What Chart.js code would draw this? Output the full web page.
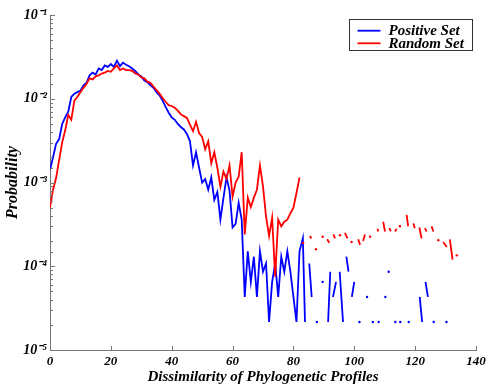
<!DOCTYPE html>
<html><head><meta charset="utf-8">
<script src="https://cdn.jsdelivr.net/npm/chart.js@4.4.0/dist/chart.umd.min.js"></script>
<style>html,body{margin:0;padding:0;background:#fff;}</style>
</head><body>
<canvas id="c" width="488" height="386"></canvas>
<script>
const seriesNames = ['Positive Set', 'Random Set'];
const seriesColors = ['rgb(0,0,255)', 'rgb(255,0,0)'];
const xTicks = [0, 20, 40, 60, 80, 100, 120, 140];
const yDecades = [1e-5, 1e-4, 1e-3, 1e-2, 1e-1];
const yTickLabels = ['10⁻⁵', '10⁻⁴', '10⁻³', '10⁻²', '10⁻¹'];
const xTitle = 'Dissimilarity of Phylogenetic Profiles';
const yTitle = 'Probability';

const binX = [0,1,2,3,4,5,6,7,8,9,10,11,12,13,14,15,16,17,18,19,20,21,22,23,24,25,26,27,28,29,30,31,32,33,34,35,36,37,38,39,40,41,42,43,44,45,46,47,48,49,50,51,52,53,54,55,56,57,58,59,60,61,62,63,64,65,66,67,68,69,70,71,72,73,74,75,76,77,78,79,80,81,82];

const blueMain = [1.42e-3, 2.0e-3, 2.9e-3, 3.3e-3, 5.0e-3, 6.0e-3, 7.0e-3, 1.05e-2, 1.15e-2, 1.2e-2,
 1.25e-2, 1.45e-2, 1.55e-2, 1.9e-2, 2.05e-2, 1.95e-2, 2.3e-2, 2.2e-2, 2.5e-2, 2.4e-2,
 2.6e-2, 2.4e-2, 2.85e-2, 2.45e-2, 2.7e-2, 2.55e-2, 2.45e-2, 2.3e-2, 2.15e-2, 1.95e-2,
 1.85e-2, 1.65e-2, 1.58e-2, 1.45e-2, 1.35e-2, 1.2e-2, 1.1e-2, 9.5e-3, 8.0e-3, 6.8e-3,
 6.0e-3, 5.6e-3, 5.0e-3, 4.6e-3, 4.3e-3, 3.8e-3, 3.1e-3, 1.6e-3, 2.3e-3, 1.5e-3,
 1.0e-3, 1.1e-3, 8.2e-4, 1.15e-3, 6.2e-4, 7.7e-4, 3.6e-4, 6.5e-4, 1.15e-3, 8.0e-4,
 2.9e-4, 3.2e-4, 5.7e-4, 3.6e-4, 4.3e-5, 1.51e-4, 6.5e-5, 1.3e-4, 4.3e-5, 1.51e-4,
 8.6e-5, 1.08e-4, 2.16e-5, 6.5e-5, 1.08e-4, 4.3e-5, 1.3e-4, 8.6e-5, 1.51e-4, 8.6e-5,
 4.3e-5, 2.16e-5, 1.51e-4];

const redMain = [5.0e-4, 8.2e-4, 1.13e-3, 1.86e-3, 3.0e-3, 4.2e-3, 6.4e-3, 5.6e-3, 9.5e-3, 1.05e-2,
 1.2e-2, 1.35e-2, 1.5e-2, 1.75e-2, 1.7e-2, 1.85e-2, 1.9e-2, 2.0e-2, 2.05e-2, 2.15e-2,
 2.1e-2, 2.3e-2, 2.5e-2, 2.2e-2, 2.3e-2, 2.2e-2, 2.2e-2, 2.15e-2, 2.0e-2, 1.95e-2,
 1.8e-2, 1.75e-2, 1.6e-2, 1.55e-2, 1.4e-2, 1.27e-2, 1.15e-2, 1.02e-2, 9.2e-3, 8.4e-3,
 8.2e-3, 7.8e-3, 7.2e-3, 6.5e-3, 6.2e-3, 5.9e-3, 4.9e-3, 4.1e-3, 5.3e-3, 3.9e-3,
 3.5e-3, 2.5e-3, 3.1e-3, 1.7e-3, 2.3e-3, 1.5e-3, 8.9e-4, 1.35e-3, 1.1e-3, 1.6e-3,
 6.8e-4, 1.0e-3, 1.17e-3, 2.3e-3, 2.4e-4, 6.6e-4, 5.1e-4, 6.6e-4, 8.2e-4, 1.6e-3,
 9.0e-4, 3.9e-4, 2.3e-4, 3.8e-4, 7.5e-5, 3.6e-4, 3.0e-4, 3.4e-4, 3.6e-4, 4.3e-4,
 5.0e-4, 7.5e-4, 1.15e-3];

// sparse tails (null = no observations -> gap)
const blueTailX = [83.1, 83.8, 84.5, 85.2, 86.0, 86.8, 87.7, 88.6, 89.6, 90.5, 91.4, 92.1, 92.5, 93.0, 94.0, 94.6, 95.2, 96.3, 96.8, 97.4, 98.1, 98.6, 99.2, 100.0, 100.8, 101.7, 103.0, 104.2, 105.2, 106.1, 107.0, 108.0, 109.1, 110.2, 110.8, 111.3, 112.4, 113.5, 114.3, 115.1, 116.5, 117.9, 119.7, 121.5, 122.3, 122.8, 123.4, 124.2, 125.2, 126.1, 128.2, 130.3];
const blueTailY = [2.16e-4, 2.16e-5, null, 1.08e-4, 4.3e-5, null, 2.16e-5, null, 6.5e-5, null, 2.16e-5, 8.6e-5, null, 4.3e-5, 6.5e-5, null, 8.6e-5, 2.16e-5, null, 1.3e-4, 8.6e-5, null, 4.3e-5, 6.5e-5, null, 2.16e-5, null, 4.3e-5, null, 2.16e-5, null, 2.16e-5, null, 4.3e-5, null, 8.6e-5, null, 2.16e-5, null, 2.16e-5, null, 2.16e-5, null, 4.3e-5, 2.16e-5, null, 6.5e-5, 4.3e-5, null, 2.16e-5, null, 2.16e-5];

const redTailX = [82.5, 83.2, 84.3, 85.4, 85.9, 86.7, 87.4, 88.5, 89.6, 90.4, 91.1, 91.8, 92.5, 93.1, 93.7, 94.5, 95.3, 96.1, 96.9, 97.8, 98.5, 99.1, 100.5, 101.3, 101.9, 102.4, 102.9, 103.5, 104.4, 105.2, 106.5, 107.6, 107.9, 108.7, 109.5, 110.1, 110.8, 111.5, 112.0, 112.7, 113.4, 113.9, 114.5, 115.0, 116.1, 117.2, 117.7, 118.6, 119.4, 119.9, 120.7, 121.4, 122.1, 122.7, 123.2, 123.8, 124.6, 125.4, 126.0, 126.8, 127.6, 128.5, 129.2, 130.4, 131.0, 131.4, 132.3, 133.0, 133.7];
const redTailY = [null, 1.9e-4, null, 2.3e-4, 2.15e-4, null, 1.6e-4, null, 2.25e-4, null, 2.1e-4, 1.9e-4, null, 2.4e-4, 2.15e-4, null, 2.35e-4, null, 2.5e-4, 2.15e-4, null, 1.95e-4, null, 2.1e-4, 1.8e-4, null, 2.0e-4, 2.4e-4, null, 2.25e-4, null, 2.8e-4, 2.6e-4, null, 3.4e-4, 2.6e-4, null, 2.85e-4, 2.6e-4, null, 2.6e-4, 2.8e-4, null, 3.0e-4, null, 4.1e-4, 3.0e-4, null, 3.25e-4, 2.85e-4, null, 2.9e-4, 2.15e-4, null, 2.85e-4, 2.6e-4, null, 3.0e-4, 2.6e-4, null, 2.05e-4, null, 1.95e-4, 1.7e-4, null, 2.1e-4, 1.2e-4, null, 1.35e-4];

function pts(xs, ys) { return xs.map((x, i) => ({x: x, y: ys[i]})); }
const blueData = pts(binX, blueMain).concat(pts(blueTailX, blueTailY));
const redData = pts(binX, redMain).concat(pts(redTailX, redTailY));

function isolatedRadius(ctx) {
  const d = ctx.dataset.data, i = ctx.dataIndex;
  if (!d[i] || d[i].y == null) return 0;
  const p = d[i - 1], n = d[i + 1];
  const pn = !p || p.y == null, nn = !n || n.y == null;
  return (pn && nn) ? 1.2 : 0;
}

const FONT = "'Liberation Serif', 'Times New Roman', serif";
function isDecade(v) { return yDecades.some(d => Math.abs(v / d - 1) < 1e-6); }

const inwardTicks = {
  id: 'inwardTicks',
  afterDraw(chart) {
    const {ctx, chartArea: a, scales: {x, y}} = chart;
    ctx.save();
    ctx.strokeStyle = '#777';
    ctx.lineWidth = 1;
    ctx.beginPath();
    y.ticks.forEach(t => {
      const py = Math.round(y.getPixelForValue(t.value)) + 0.5;
      const len = isDecade(t.value) ? 5 : 3;
      ctx.moveTo(a.left, py); ctx.lineTo(a.left + len, py);
    });
    x.ticks.forEach(t => {
      const px = Math.round(x.getPixelForValue(t.value)) + 0.5;
      ctx.moveTo(px, a.bottom); ctx.lineTo(px, a.bottom - 4);
    });
    ctx.stroke();
    ctx.restore();
  }
};

const boxedLegend = {
  id: 'boxedLegend',
  afterDraw(chart) {
    const {ctx, chartArea: a} = chart;
    const w = 123, h = 31;
    const left = Math.round(a.right - 4 - w) + 0.5, top = Math.round(a.top + 4) + 0.5;
    ctx.save();
    ctx.fillStyle = '#fff';
    ctx.fillRect(left, top, w, h);
    ctx.strokeStyle = '#333';
    ctx.lineWidth = 1;
    ctx.strokeRect(left, top, w, h);
    chart.data.datasets.forEach((ds, i) => {
      const yy = top + 11.2 + i * 12.6;
      ctx.strokeStyle = ds.borderColor;
      ctx.lineWidth = 1.8;
      ctx.beginPath(); ctx.moveTo(left + 8, yy); ctx.lineTo(left + 31, yy); ctx.stroke();
      ctx.fillStyle = '#000';
      ctx.font = "bold italic 15px " + FONT;
      ctx.textBaseline = 'middle';
      ctx.textAlign = 'left';
      ctx.fillText(ds.label, left + 39, yy + 0.5);
    });
    ctx.restore();
  }
};

new Chart(document.getElementById('c'), {
  type: 'line',
  data: {
    datasets: [
      {label: seriesNames[0], data: blueData, borderColor: seriesColors[0], backgroundColor: seriesColors[0], order: 1},
      {label: seriesNames[1], data: redData, borderColor: seriesColors[1], backgroundColor: seriesColors[1], order: 0}
    ]
  },
  options: {
    responsive: false,
    devicePixelRatio: 1,
    animation: false,
    spanGaps: false,
    layout: {autoPadding: false, padding: {left: 0, top: 15, right: 12, bottom: 0}},
    elements: {
      line: {borderWidth: 1.8, tension: 0, fill: false},
      point: {radius: isolatedRadius, hoverRadius: 0, borderWidth: 0, hitRadius: 0}
    },
    plugins: {legend: {display: false}, tooltip: {enabled: false}},
    scales: {
      x: {
        type: 'linear', position: 'bottom', min: 0, max: 140,
        afterBuildTicks: s => { s.ticks = xTicks.map(v => ({value: v})); },
        afterFit: s => { s.height = 36; s.paddingLeft = 0; s.paddingRight = 0; },
        grid: {display: false, drawTicks: false},
        border: {display: true, color: '#777', width: 1},
        ticks: {color: '#000', font: {family: FONT, size: 13, weight: 'bold', style: 'italic'}, padding: 4, maxRotation: 0, autoSkip: false},
        title: {display: true, text: xTitle, color: '#000', font: {family: FONT, size: 15, weight: 'bold', style: 'italic'}, padding: {top: 0, bottom: 0}}
      },
      y: {
        type: 'logarithmic', position: 'left', min: 1e-5, max: 1e-1,
        afterFit: s => { s.width = 50; },
        grid: {display: false, drawTicks: false},
        border: {display: true, color: '#777', width: 1},
        ticks: {
          color: '#000', autoSkip: false, padding: 3,
          font: {family: FONT, size: 14, weight: 'bold', style: 'italic'},
          callback: v => { const k = yDecades.findIndex(d => Math.abs(v / d - 1) < 1e-6); return k >= 0 ? yTickLabels[k] : ''; }
        },
        title: {display: true, text: yTitle, color: '#000', font: {family: FONT, size: 16, weight: 'bold', style: 'italic'}, padding: {top: 3, bottom: 0}}
      }
    }
  },
  plugins: [inwardTicks, boxedLegend]
});
</script>
</body></html>
